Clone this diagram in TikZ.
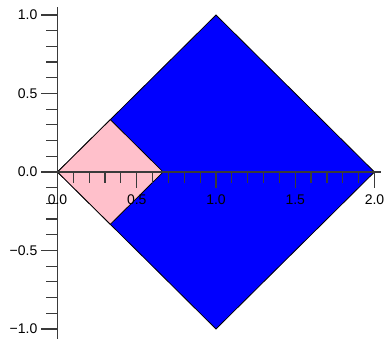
\documentclass[tikz,border=0pt]{standalone}
\usepackage{fontspec}
\setmainfont{Liberation Sans}
\usetikzlibrary{positioning}
\definecolor{axisgray}{HTML}{3A3A3A}
\definecolor{pinkfill}{HTML}{FFC0CB}
\definecolor{bluefill}{HTML}{0000FF}

\begin{document}
\begin{tikzpicture}[
x=158.5pt,y=157pt,
axis/.style={draw=axisgray,line width=1.2pt},
tickmark/.style={draw=axisgray,line width=1.2pt},
lbl/.style={font=\fontsize{14}{16}\selectfont,inner sep=0pt,text=black},
face/.style={draw=black,line width=0.8pt,line join=miter}
]
\useasboundingbox (-0.3628,-1.0637) rectangle (2.060,1.0955);
% outer and inner squares
\filldraw[face,fill=bluefill] (0,0) -- (1,1) -- (2,0) -- (1,-1) -- cycle;
\filldraw[face,fill=pinkfill] (0,0) -- (1/3,1/3) -- (2/3,0) -- (1/3,-1/3) -- cycle;
% axes
\draw[axis] (0,-1.07) -- (0,1.051);
\draw[axis] (0,0) -- (2.04,0);
\foreach \i in {-10,...,10}
  \draw[tickmark] (0,\i/10) -- ++(-12pt,0);
\foreach \i in {0,...,20}
  \draw[tickmark] (\i/10,0) -- ++(0,-11pt);
\foreach \v/\t/\n in {-1/−1.0/ym2,-0.5/−0.5/ym1,0/0.0/yz,0.5/0.5/yp1,1/1.0/yp2}{
  \draw[tickmark] (0,\v) -- ++(-17pt,0);
  \node[lbl,anchor=east] (\n) at ([xshift=-20pt]0,\v) {\t};
}
\foreach \v/\t/\n in {0/0.0/xa,0.5/0.5/xb,1/1.0/xc,1.5/1.5/xd,2/2.0/xe}{
  \draw[tickmark] (\v,0) -- ++(0,-16pt);
  \node[lbl,anchor=north] (\n) at ([yshift=-22.5pt]\v,0) {\t};
}
\end{tikzpicture}
\end{document}
